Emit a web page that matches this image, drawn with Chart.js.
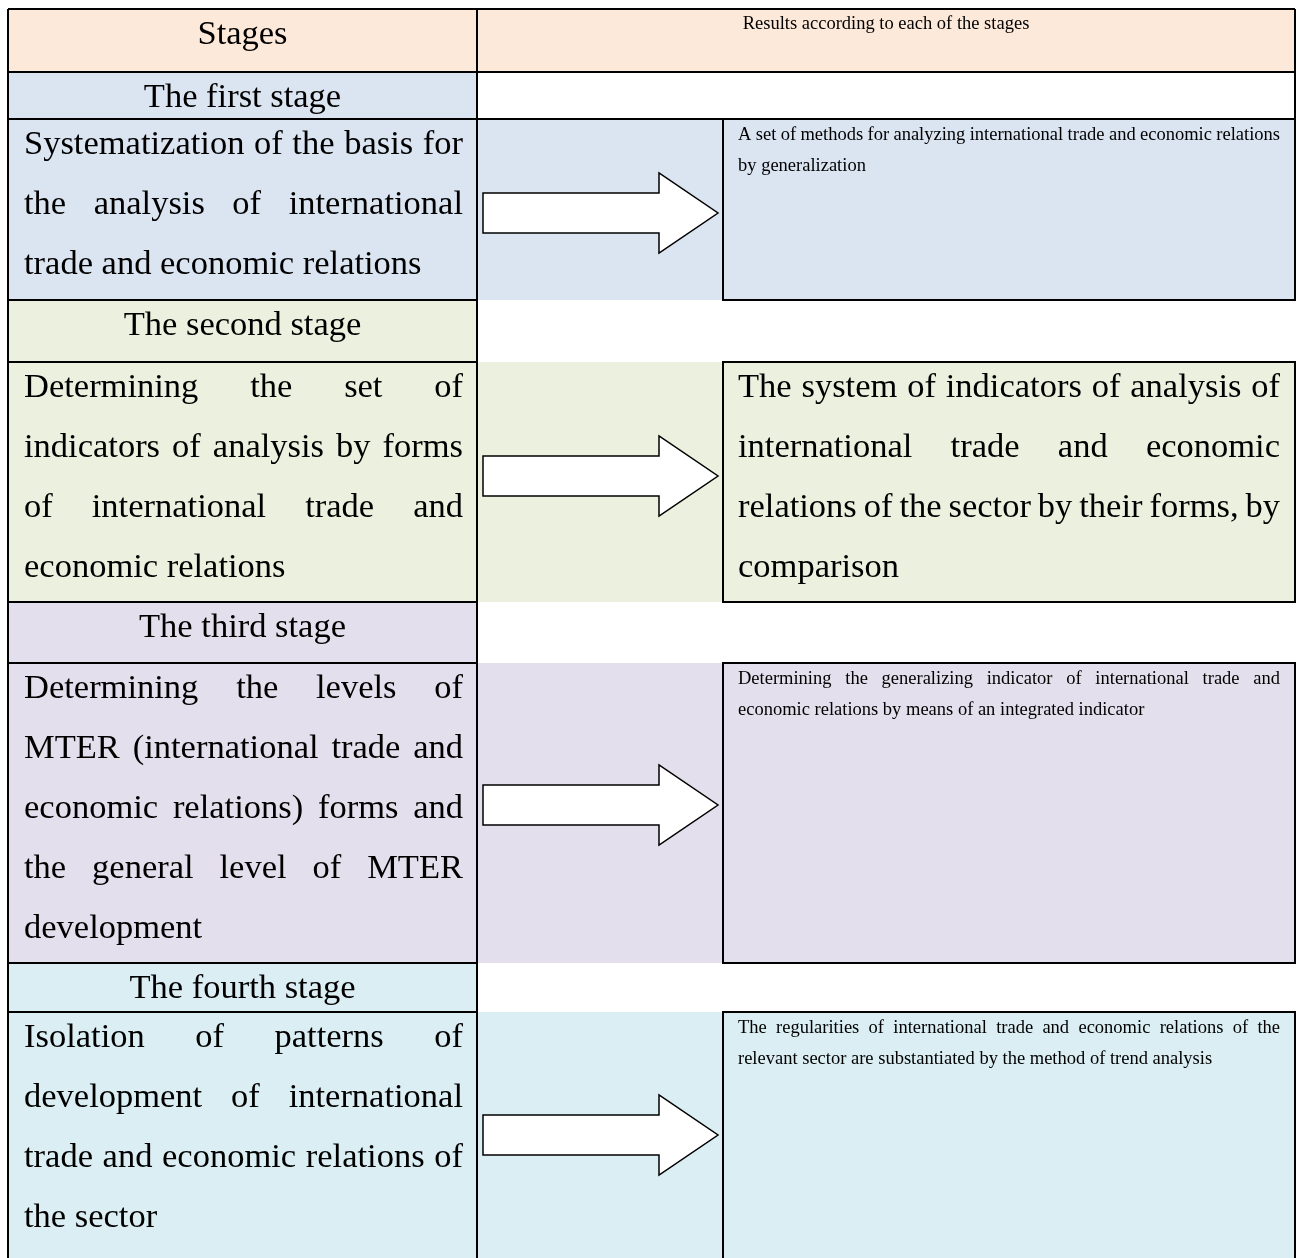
<!DOCTYPE html>
<html>
<head>
<meta charset="utf-8">
<script src="https://cdn.jsdelivr.net/npm/chart.js@4.4.1/dist/chart.umd.min.js"></script>
<style>
  html, body { margin: 0; padding: 0; background: #ffffff; }
  #wrap { width: 1299px; height: 1258px; }
</style>
</head>
<body>
<div id="wrap"><canvas id="stagesChart" width="1299" height="1258"></canvas></div>
<script>
// table texts
const headerTitles = ['Stages', 'Results according to each of the stages'];

const stageNames = ['The first stage', 'The second stage', 'The third stage', 'The fourth stage'];

const stageSteps = [
    ['Systematization of the basis for', 'the analysis of international', 'trade and economic relations'],
    ['Determining the set of', 'indicators of analysis by forms', 'of international trade and', 'economic relations'],
    ['Determining the levels of', 'MTER (international trade and', 'economic relations) forms and', 'the general level of MTER', 'development'],
    ['Isolation of patterns of', 'development of international', 'trade and economic relations of', 'the sector']
];

const stageResults = [
    ['A set of methods for analyzing international trade and economic relations', 'by generalization'],
    ['The system of indicators of analysis of', 'international trade and economic', 'relations of the sector by their forms, by', 'comparison'],
    ['Determining the generalizing indicator of international trade and', 'economic relations by means of an integrated indicator'],
    ['The regularities of international trade and economic relations of the', 'relevant sector are substantiated by the method of trend analysis']
];

// layout (page units, mapped through the hidden scales)
const colX = { left: 8, mid: 477, box: 723, right: 1295 };
const headerBand = [9, 72];
const labelBands = [[72, 119], [300, 362], [602, 663], [963, 1012]];
const contentBands = [[119, 300], [362, 602], [663, 963], [1012, 1264]];
const arrowMid = [213, 476, 805, 1135];
const resultBig = [false, true, false, false];

const headerColor = '#fde9d9';
const stageColors = ['#dbe5f1', '#ebf1de', '#e4dfec', '#daeef3'];
const serif = '"Liberation Serif", "Times New Roman", serif';
const bigFont = '34.5px ' + serif;
const smallFont = '18.5px ' + serif;

function justified(ctx, lines, x0, w, base, lh) {
    lines.forEach((line, i) => {
        const by = base + i * lh;
        const words = line.split(' ');
        if (i === lines.length - 1 || words.length < 2) {
            ctx.fillText(line, x0, by);
            return;
        }
        const total = words.reduce((s, wd) => s + ctx.measureText(wd).width, 0);
        const gap = (w - total) / (words.length - 1);
        let cx = x0;
        words.forEach(wd => {
            ctx.fillText(wd, cx, by);
            cx += ctx.measureText(wd).width + gap;
        });
    });
}

const stageTable = {
    id: 'stageTable',
    afterDraw(chart) {
        const { ctx, scales: { x, y } } = chart;
        const px = v => x.getPixelForValue(v);
        const py = v => y.getPixelForValue(v);
        const rect = (x0, y0, x1, y1, c) => {
            ctx.fillStyle = c;
            ctx.fillRect(px(x0), py(y0), px(x1) - px(x0), py(y1) - py(y0));
        };
        const line = (x0, y0, x1, y1) => {
            ctx.beginPath();
            ctx.moveTo(px(x0), py(y0));
            ctx.lineTo(px(x1), py(y1));
            ctx.stroke();
        };

        ctx.save();
        // backgrounds
        rect(colX.left, headerBand[0], colX.right, headerBand[1], headerColor);
        stageNames.forEach((n, i) => {
            rect(colX.left, labelBands[i][0], colX.mid, labelBands[i][1], stageColors[i]);
            rect(colX.left, contentBands[i][0], colX.right, contentBands[i][1], stageColors[i]);
        });

        // texts
        ctx.fillStyle = '#000000';
        ctx.textBaseline = 'alphabetic';
        ctx.font = bigFont;
        ctx.textAlign = 'center';
        ctx.fillText(headerTitles[0], px((colX.left + colX.mid) / 2), py(44));
        ctx.font = smallFont;
        ctx.fillText(headerTitles[1], px((colX.mid + colX.right) / 2), py(29));

        stageNames.forEach((n, i) => {
            ctx.font = bigFont;
            ctx.textAlign = 'center';
            ctx.fillText(n, px((colX.left + colX.mid) / 2), py(labelBands[i][0] + 35));
            ctx.textAlign = 'left';
            justified(ctx, stageSteps[i], px(24), px(463) - px(24), py(contentBands[i][0] + 35), 60);
            if (resultBig[i]) {
                justified(ctx, stageResults[i], px(738), px(1280) - px(738), py(contentBands[i][0] + 35), 60);
            } else {
                ctx.font = smallFont;
                justified(ctx, stageResults[i], px(738), px(1280) - px(738), py(contentBands[i][0] + 21), 31);
            }
        });

        // borders
        ctx.strokeStyle = '#000000';
        ctx.lineWidth = 2;
        line(colX.left, headerBand[0], colX.right, headerBand[0]);
        line(colX.left, headerBand[1], colX.right, headerBand[1]);
        line(colX.left, labelBands[0][1], colX.right, labelBands[0][1]);
        line(colX.right, headerBand[0], colX.right, labelBands[0][1]);
        line(colX.left, headerBand[0], colX.left, 1264);
        line(colX.mid, headerBand[0], colX.mid, 1264);
        stageNames.forEach((n, i) => {
            line(colX.left, labelBands[i][0], colX.mid, labelBands[i][0]);
            line(colX.left, contentBands[i][0], colX.mid, contentBands[i][0]);
            // result box
            ctx.strokeRect(px(colX.box), py(contentBands[i][0]), px(colX.right) - px(colX.box), py(contentBands[i][1]) - py(contentBands[i][0]));
            // arrow
            const m = arrowMid[i];
            ctx.beginPath();
            ctx.moveTo(px(483), py(m - 20));
            ctx.lineTo(px(659), py(m - 20));
            ctx.lineTo(px(659), py(m - 40));
            ctx.lineTo(px(718), py(m));
            ctx.lineTo(px(659), py(m + 40));
            ctx.lineTo(px(659), py(m + 20));
            ctx.lineTo(px(483), py(m + 20));
            ctx.closePath();
            ctx.fillStyle = '#ffffff';
            ctx.fill();
            ctx.lineWidth = 1.5;
            ctx.stroke();
            ctx.lineWidth = 2;
        });
        ctx.restore();
    }
};

const ctxTable = document.getElementById('stagesChart').getContext('2d');
const stagesChart = new Chart(ctxTable, {
    type: 'scatter',
    data: { datasets: [{ data: [] }] },
    options: {
        responsive: false,
        animation: false,
        devicePixelRatio: 1,
        layout: { padding: 0 },
        plugins: { legend: { display: false }, tooltip: { enabled: false } },
        scales: {
            x: { type: 'linear', min: 0, max: 1299, display: false },
            y: { type: 'linear', min: 0, max: 1258, reverse: true, display: false }
        }
    },
    plugins: [stageTable]
});
</script>
</body>
</html>
